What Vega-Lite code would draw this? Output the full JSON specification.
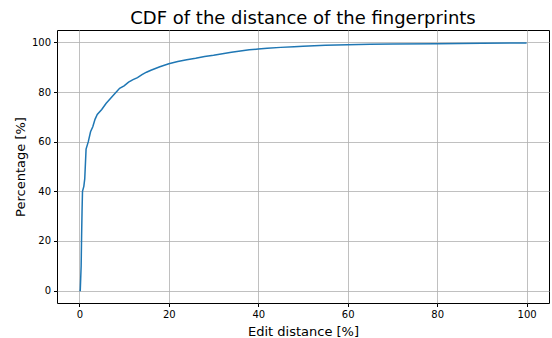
{
  "$schema": "https://vega.github.io/schema/vega-lite/v6.json",
  "autosize": {"type": "none"},
  "width": 492,
  "height": 273,
  "padding": {"left": 57, "top": 30, "right": 3, "bottom": 35},
  "background": "white",
  "title": {"text": "CDF of the distance of the fingerprints", "fontSize": 18, "font": "DejaVu Sans", "fontWeight": "normal", "color": "black", "offset": 2},
  "config": {
    "view": {"stroke": "black", "strokeWidth": 1},
    "axis": {"domain": false, "grid": true, "gridColor": "#b0b0b0", "gridWidth": 0.8, "tickColor": "black", "tickSize": 3.5, "labelFont": "DejaVu Sans", "labelFontSize": 10, "labelColor": "black", "labelPadding": 3, "titleFont": "DejaVu Sans", "titleFontSize": 13, "titleFontWeight": "normal", "titleColor": "black"}
  },
  "data": {"values": [
    {"x": 0.0, "y": 0}, {"x": 0.2, "y": 0}, {"x": 0.3, "y": 5}, {"x": 0.4, "y": 10}, {"x": 0.5, "y": 22}, {"x": 0.6, "y": 32},
    {"x": 0.7, "y": 40}, {"x": 1.0, "y": 42}, {"x": 1.2, "y": 45}, {"x": 1.5, "y": 57}, {"x": 2.0, "y": 60},
    {"x": 2.5, "y": 64}, {"x": 3.0, "y": 66}, {"x": 3.5, "y": 69}, {"x": 4.0, "y": 71}, {"x": 5.0, "y": 73},
    {"x": 6.0, "y": 75.5}, {"x": 7.0, "y": 77.5}, {"x": 8.0, "y": 79.5}, {"x": 9.0, "y": 81.5}, {"x": 10, "y": 82.5},
    {"x": 11, "y": 84}, {"x": 12, "y": 85}, {"x": 13, "y": 85.8}, {"x": 14, "y": 87}, {"x": 15, "y": 88},
    {"x": 16, "y": 88.8}, {"x": 17, "y": 89.5}, {"x": 18, "y": 90.2}, {"x": 19, "y": 90.8}, {"x": 20, "y": 91.4},
    {"x": 22, "y": 92.3}, {"x": 24, "y": 93}, {"x": 26, "y": 93.6}, {"x": 28, "y": 94.3}, {"x": 30, "y": 94.8},
    {"x": 32, "y": 95.4}, {"x": 34, "y": 96}, {"x": 36, "y": 96.5}, {"x": 38, "y": 97}, {"x": 40, "y": 97.3},
    {"x": 42, "y": 97.6}, {"x": 45, "y": 98}, {"x": 48, "y": 98.3}, {"x": 50, "y": 98.5}, {"x": 55, "y": 98.9},
    {"x": 60, "y": 99.1}, {"x": 65, "y": 99.3}, {"x": 70, "y": 99.4}, {"x": 80, "y": 99.5}, {"x": 90, "y": 99.7},
    {"x": 100, "y": 99.8}
  ]},
  "mark": {"type": "line", "color": "#1f77b4", "strokeWidth": 1.5},
  "encoding": {
    "x": {"field": "x", "type": "quantitative", "scale": {"domain": [-5, 105], "nice": false, "zero": false},
      "axis": {"title": "Edit distance [%]", "values": [0, 20, 40, 60, 80, 100], "titlePadding": 6}},
    "y": {"field": "y", "type": "quantitative", "scale": {"domain": [-5, 105], "nice": false, "zero": false},
      "axis": {"title": "Percentage [%]", "values": [0, 20, 40, 60, 80, 100], "titlePadding": 4}}
  }
}
